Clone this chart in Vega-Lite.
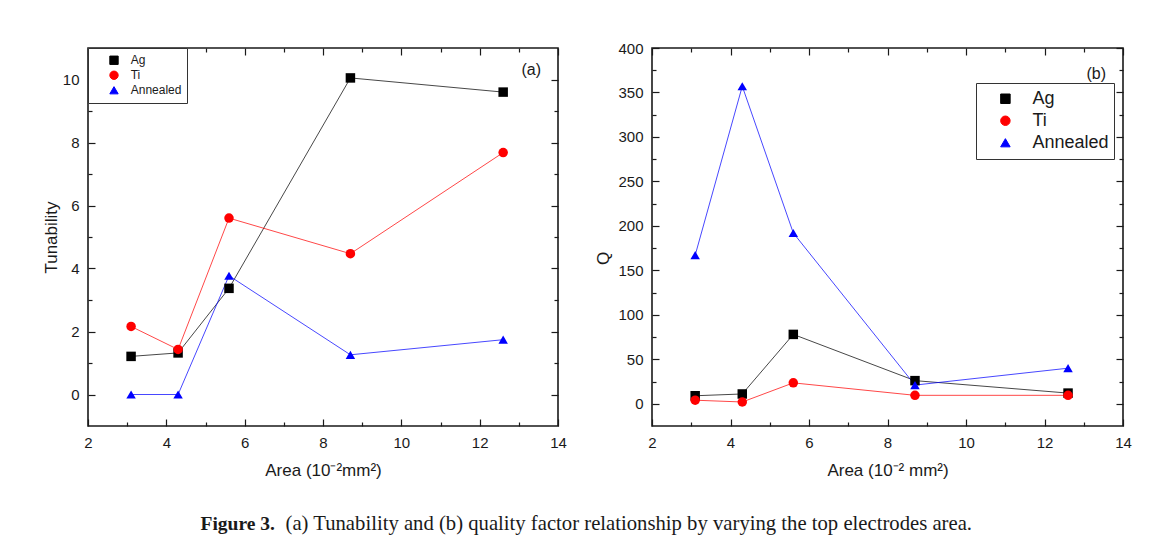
{
  "$schema": "https://vega.github.io/schema/vega-lite/v6.json",
  "background": "white",
  "padding": {"left": 41, "top": 40, "right": 10, "bottom": 5},
  "config": {
    "font": "Liberation Sans",
    "view": {"stroke": "#1a1a1a", "strokeWidth": 1.6},
    "axis": {"grid": false, "domain": false, "tickColor": "#1a1a1a", "tickWidth": 1.2,
      "labelFont": "Liberation Sans", "labelFontSize": 15, "labelColor": "#1a1a1a", "labelPadding": 16,
      "labelFlush": false, "labelOverlap": false, "titleFont": "Liberation Sans", "titleFontSize": 17,
      "titleFontWeight": "normal", "titleColor": "#1a1a1a"},
    "legend": {"title": null, "rowPadding": 0, "labelFont": "Liberation Sans", "labelColor": "#1a1a1a", "symbolStrokeWidth": 1, "fillColor": "white", "strokeColor": "#333333"}
  },
  "datasets": {
    "tun": [
      {"area": 3.1, "tunability": 1.21, "sample": "Ag"},
      {"area": 4.3, "tunability": 1.32, "sample": "Ag"},
      {"area": 5.6, "tunability": 3.37, "sample": "Ag"},
      {"area": 8.7, "tunability": 10.05, "sample": "Ag"},
      {"area": 12.6, "tunability": 9.6, "sample": "Ag"},
      {"area": 3.1, "tunability": 2.16, "sample": "Ti"},
      {"area": 4.3, "tunability": 1.43, "sample": "Ti"},
      {"area": 5.6, "tunability": 5.6, "sample": "Ti"},
      {"area": 8.7, "tunability": 4.47, "sample": "Ti"},
      {"area": 12.6, "tunability": 7.68, "sample": "Ti"},
      {"area": 3.1, "tunability": 0, "sample": "Annealed"},
      {"area": 4.3, "tunability": 0, "sample": "Annealed"},
      {"area": 5.6, "tunability": 3.77, "sample": "Annealed"},
      {"area": 8.7, "tunability": 1.26, "sample": "Annealed"},
      {"area": 12.6, "tunability": 1.74, "sample": "Annealed"}
    ],
    "qf": [
      {"area": 3.1, "q": 9, "sample": "Ag"},
      {"area": 4.3, "q": 11, "sample": "Ag"},
      {"area": 5.6, "q": 78, "sample": "Ag"},
      {"area": 8.7, "q": 26, "sample": "Ag"},
      {"area": 12.6, "q": 12, "sample": "Ag"},
      {"area": 3.1, "q": 4, "sample": "Ti"},
      {"area": 4.3, "q": 2, "sample": "Ti"},
      {"area": 5.6, "q": 23.5, "sample": "Ti"},
      {"area": 8.7, "q": 9.5, "sample": "Ti"},
      {"area": 12.6, "q": 9.5, "sample": "Ti"},
      {"area": 3.1, "q": 167, "sample": "Annealed"},
      {"area": 4.3, "q": 357, "sample": "Annealed"},
      {"area": 5.6, "q": 192, "sample": "Annealed"},
      {"area": 8.7, "q": 21, "sample": "Annealed"},
      {"area": 12.6, "q": 40, "sample": "Annealed"}
    ]
  },
  "title": {"text": "Figure 3.", "orient": "bottom", "anchor": "start", "font": "Liberation Serif", "fontSize": 19.5, "fontWeight": "bold", "color": "#1a1a1a", "dx": 159, "dy": -19, "offset": 0},
  "vconcat": [
    {
      "title": {"text": "(a) Tunability and (b) quality factor relationship by varying the top electrodes area.", "orient": "bottom", "anchor": "start", "font": "Liberation Serif", "fontSize": 20.7, "fontWeight": "normal", "color": "#1a1a1a", "dx": 244, "offset": 35},
      "spacing": 94,
      "bounds": "flush",
      "resolve": {"scale": {"color": "independent", "shape": "independent"}, "legend": {"color": "independent", "shape": "independent"}},
      "hconcat": [
        {
          "width": 470,
          "height": 378,
          "title": {"text": "(a)", "orient": "top", "anchor": "end", "frame": "group", "offset": -31, "dx": -17, "font": "Liberation Sans", "fontSize": 16, "fontWeight": "normal", "color": "#1a1a1a"},
          "data": {"name": "tun"},
          "layer": [
            {
              "mark": {"type": "line", "strokeWidth": 1, "strokeOpacity": 0.72},
              "encoding": {
                "x": {"field": "area", "type": "quantitative", "scale": {"domain": [2, 14], "nice": false, "zero": false},
                  "axis": {"orient": "bottom", "title": "Area (10⁻²mm²)", "values": [2, 4, 6, 8, 10, 12, 14], "tickSize": -7, "titlePadding": 12}},
                "y": {"field": "tunability", "type": "quantitative", "scale": {"domain": [-1, 11], "nice": false, "zero": false},
                  "axis": {"orient": "left", "title": "Tunability", "values": [0, 2, 4, 6, 8, 10], "tickSize": -7, "titlePadding": 2}},
                "color": {"field": "sample", "type": "nominal", "scale": {"domain": ["Ag", "Ti", "Annealed"], "range": ["#000000", "#ff0000", "#0000ff"]},
                  "legend": {"orient": "none", "legendX": 0, "legendY": 0, "labelFontSize": 12, "padding": 5, "clipHeight": 14.5, "symbolSize": 70, "symbolOffset": 15, "labelOffset": 10.7}}
              }
            },
            {
              "mark": {"type": "point", "filled": true, "opacity": 1, "size": 90},
              "encoding": {
                "x": {"field": "area", "type": "quantitative",
                  "axis": {"orient": "top", "title": null, "labels": false, "values": [2, 4, 6, 8, 10, 12, 14], "tickSize": -7}},
                "y": {"field": "tunability", "type": "quantitative",
                  "axis": {"orient": "right", "title": null, "labels": false, "values": [0, 2, 4, 6, 8, 10], "tickSize": -7}},
                "color": {"field": "sample", "type": "nominal",
                  "legend": {"orient": "none", "legendX": 0, "legendY": 0, "labelFontSize": 12, "padding": 5, "clipHeight": 14.5, "symbolSize": 70, "symbolOffset": 15, "labelOffset": 10.7}},
                "shape": {"field": "sample", "type": "nominal", "scale": {"domain": ["Ag", "Ti", "Annealed"], "range": ["square", "circle", "triangle-up"]},
                  "legend": {"orient": "none", "legendX": 0, "legendY": 0, "labelFontSize": 12, "padding": 5, "clipHeight": 14.5, "symbolSize": 70, "symbolOffset": 15, "labelOffset": 10.7}}
              }
            },
            {
              "mark": {"type": "point", "filled": true, "size": 0},
              "encoding": {
                "x": {"field": "area", "type": "quantitative",
                  "axis": {"orient": "bottom", "title": null, "labels": false, "values": [3, 5, 7, 9, 11, 13], "tickSize": -4}},
                "y": {"field": "tunability", "type": "quantitative",
                  "axis": {"orient": "left", "title": null, "labels": false, "values": [1, 3, 5, 7, 9], "tickSize": -4}}
              }
            },
            {
              "mark": {"type": "point", "filled": true, "size": 0},
              "encoding": {
                "x": {"field": "area", "type": "quantitative",
                  "axis": {"orient": "top", "title": null, "labels": false, "values": [3, 5, 7, 9, 11, 13], "tickSize": -4}},
                "y": {"field": "tunability", "type": "quantitative",
                  "axis": {"orient": "right", "title": null, "labels": false, "values": [1, 3, 5, 7, 9], "tickSize": -4}}
              }
            }
          ],
          "resolve": {"axis": {"x": "independent", "y": "independent"}}
        },
        {
          "width": 471,
          "height": 378,
          "title": {"text": "(b)", "orient": "top", "anchor": "end", "frame": "group", "offset": -41, "dx": -17, "font": "Liberation Sans", "fontSize": 16, "fontWeight": "normal", "color": "#1a1a1a"},
          "data": {"name": "qf"},
          "layer": [
            {
              "mark": {"type": "line", "strokeWidth": 1, "strokeOpacity": 0.72},
              "encoding": {
                "x": {"field": "area", "type": "quantitative", "scale": {"domain": [2, 14], "nice": false, "zero": false},
                  "axis": {"orient": "bottom", "title": "Area (10⁻² mm²)", "values": [2, 4, 6, 8, 10, 12, 14], "tickSize": -7, "titlePadding": 12}},
                "y": {"field": "q", "type": "quantitative", "scale": {"domain": [-25, 400], "nice": false, "zero": false},
                  "axis": {"orient": "left", "title": "Q", "titleY": 210, "values": [0, 50, 100, 150, 200, 250, 300, 350, 400], "tickSize": -7, "titlePadding": 5}},
                "color": {"field": "sample", "type": "nominal", "scale": {"domain": ["Ag", "Ti", "Annealed"], "range": ["#000000", "#ff0000", "#0000ff"]},
                  "legend": {"orient": "none", "legendX": 324, "legendY": 35, "labelFontSize": 18, "padding": 5, "clipHeight": 21.5, "symbolSize": 90, "symbolOffset": 15.4, "labelOffset": 18}}
              }
            },
            {
              "mark": {"type": "point", "filled": true, "opacity": 1, "size": 90},
              "encoding": {
                "x": {"field": "area", "type": "quantitative",
                  "axis": {"orient": "top", "title": null, "labels": false, "values": [2, 4, 6, 8, 10, 12, 14], "tickSize": -7}},
                "y": {"field": "q", "type": "quantitative",
                  "axis": {"orient": "right", "title": null, "labels": false, "values": [0, 50, 100, 150, 200, 250, 300, 350, 400], "tickSize": -7}},
                "color": {"field": "sample", "type": "nominal",
                  "legend": {"orient": "none", "legendX": 324, "legendY": 35, "labelFontSize": 18, "padding": 5, "clipHeight": 21.5, "symbolSize": 90, "symbolOffset": 15.4, "labelOffset": 18}},
                "shape": {"field": "sample", "type": "nominal", "scale": {"domain": ["Ag", "Ti", "Annealed"], "range": ["square", "circle", "triangle-up"]},
                  "legend": {"orient": "none", "legendX": 324, "legendY": 35, "labelFontSize": 18, "padding": 5, "clipHeight": 21.5, "symbolSize": 90, "symbolOffset": 15.4, "labelOffset": 18}}
              }
            },
            {
              "mark": {"type": "point", "filled": true, "size": 0},
              "encoding": {
                "x": {"field": "area", "type": "quantitative",
                  "axis": {"orient": "bottom", "title": null, "labels": false, "values": [3, 5, 7, 9, 11, 13], "tickSize": -4}},
                "y": {"field": "q", "type": "quantitative",
                  "axis": {"orient": "left", "title": null, "labels": false, "values": [25, 75, 125, 175, 225, 275, 325, 375], "tickSize": -4}}
              }
            },
            {
              "mark": {"type": "point", "filled": true, "size": 0},
              "encoding": {
                "x": {"field": "area", "type": "quantitative",
                  "axis": {"orient": "top", "title": null, "labels": false, "values": [3, 5, 7, 9, 11, 13], "tickSize": -4}},
                "y": {"field": "q", "type": "quantitative",
                  "axis": {"orient": "right", "title": null, "labels": false, "values": [25, 75, 125, 175, 225, 275, 325, 375], "tickSize": -4}}
              }
            }
          ],
          "resolve": {"axis": {"x": "independent", "y": "independent"}}
        }
      ]
    }
  ]
}
